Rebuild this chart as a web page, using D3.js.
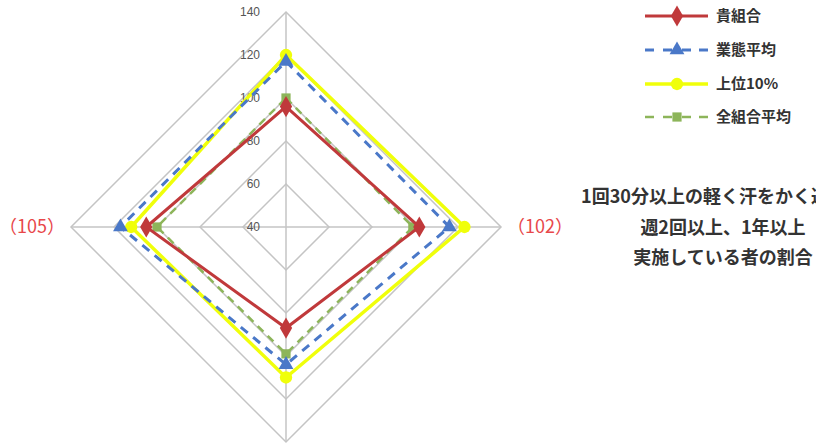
<!DOCTYPE html>
<html><head><meta charset="utf-8">
<script src="https://cdn.jsdelivr.net/npm/d3@7"></script>
<style>html,body{margin:0;padding:0;background:#fff;}svg{display:block;}</style>
</head><body>
<svg id="chart" width="816" height="448"></svg>
<script>
// ---- data ----
const axes = ["", "（102）", "", "（105）"]; // top, right, bottom, left
const ticks = [40, 60, 80, 100, 120, 140];
const seriesNames = ["貴組合", "業態平均", "上位10%", "全組合平均"];
const kumiai = [96, 102, 87, 105];
const gyotai = [117, 116, 104, 117];
const top10 = [120, 123, 110, 112];
const zenKumiai = [100, 99, 99, 100];
const noteLines = ["1回30分以上の軽く汗をかく運動を", "週2回以上、1年以上", "実施している者の割合"];

// ---- styling ----
const styles = [
  {color:"#c0393b", width:3, dash:null, marker:"diamond", size:130},
  {color:"#4a78c8", width:3, dash:"9,7", marker:"triangle", size:95},
  {color:"#f0ff0a", width:3.5, dash:null, marker:"circle", size:120},
  {color:"#8db55a", width:2.5, dash:"8,6", marker:"square", size:85}
];
const allSeries = [kumiai, gyotai, top10, zenKumiai];

const svg = d3.select("#chart");
const cx = 286, cy = 227, R = 215;
const r = d3.scaleLinear().domain([40, 140]).range([0, R]);
const angle = i => i * Math.PI / 2; // 0 = top, clockwise
const pt = (i, v) => [cx + r(v) * Math.sin(angle(i)), cy - r(v) * Math.cos(angle(i))];

const g = svg.append("g");
// grid diamonds
ticks.filter(t => t > 40).forEach(t => {
  g.append("path")
    .attr("d", d3.line()(axes.map((_, i) => pt(i, t))) + "Z")
    .attr("fill", "none").attr("stroke", "#c4c4c4").attr("stroke-width", 1.5);
});
// spokes
axes.forEach((_, i) => {
  const [x, y] = pt(i, 140);
  g.append("line").attr("x1", cx).attr("y1", cy).attr("x2", x).attr("y2", y)
    .attr("stroke", "#c4c4c4").attr("stroke-width", 1.5);
});
// tick labels
ticks.forEach(t => {
  g.append("text").attr("x", cx - 26).attr("y", cy - r(t)).attr("dy", "0.35em")
    .attr("text-anchor", "end").attr("font-family", "Liberation Sans, Arial, sans-serif")
    .attr("font-size", 12).attr("fill", "#555").text(t);
});
// axis labels
axes.forEach((lab, i) => {
  if (!lab) return;
  const [x, y] = pt(i, 140);
  const dx = Math.sin(angle(i));
  g.append("text").attr("x", x + dx * 6).attr("y", y).attr("dy", "0.35em")
    .attr("text-anchor", dx > 0 ? "start" : "end")
    .attr("font-family", "Noto Sans CJK JP, sans-serif").attr("font-size", 18)
    .attr("fill", "#e8474a").text(lab);
});

const symType = {diamond: d3.symbolDiamond, triangle: d3.symbolTriangle, circle: d3.symbolCircle, square: d3.symbolSquare};

// series, drawn in reverse so that first series is on top
for (let s = allSeries.length - 1; s >= 0; s--) {
  const st = styles[s];
  const pts = allSeries[s].map((v, i) => pt(i, v));
  g.append("path").attr("d", d3.line()(pts) + "Z")
    .attr("fill", "none").attr("stroke", st.color).attr("stroke-width", st.width)
    .attr("stroke-dasharray", st.dash).attr("stroke-linejoin", "miter");
  pts.forEach(p => {
    g.append("path").attr("d", d3.symbol().type(symType[st.marker]).size(st.size)())
      .attr("transform", `translate(${p[0]},${p[1]})`).attr("fill", st.color);
  });
}

// legend
const lx0 = 645, lx1 = 708, lmx = 677, ly = [16, 50, 84, 117];
seriesNames.forEach((name, s) => {
  const st = styles[s];
  const lg = svg.append("g");
  if (st.dash) {
    [[645, 654], [663, 672], [682, 691], [699, 708]].forEach(([a, b]) =>
      lg.append("line").attr("x1", a).attr("x2", b).attr("y1", ly[s]).attr("y2", ly[s])
        .attr("stroke", st.color).attr("stroke-width", st.width));
  } else {
    lg.append("line").attr("x1", lx0).attr("x2", lx1).attr("y1", ly[s]).attr("y2", ly[s])
      .attr("stroke", st.color).attr("stroke-width", st.width);
  }
  lg.append("path").attr("d", d3.symbol().type(symType[st.marker]).size(st.size)())
    .attr("transform", `translate(${lmx},${ly[s]})`).attr("fill", st.color);
  lg.append("text").attr("x", 716).attr("y", ly[s]).attr("dy", "0.35em")
    .attr("font-family", "Noto Sans CJK JP, sans-serif").attr("font-size", 15)
    .attr("font-weight", "bold").attr("fill", "#333").text(name);
});

// note text
const noteY = [197, 228, 258];
noteLines.forEach((t, k) => {
  svg.append("text").attr("x", 723).attr("y", noteY[k]).attr("dy", "0.35em")
    .attr("text-anchor", "middle").attr("font-family", "Noto Sans CJK JP, sans-serif")
    .attr("font-size", 18).attr("font-weight", "bold").attr("fill", "#333").text(t);
});
</script>
</body></html>
